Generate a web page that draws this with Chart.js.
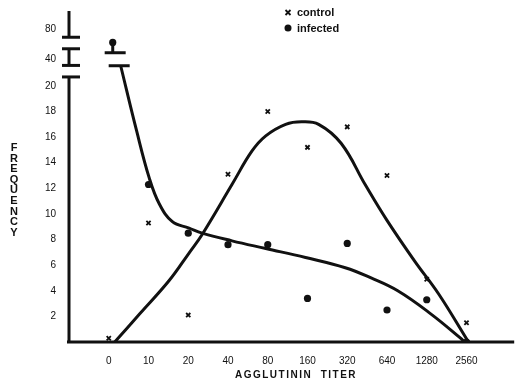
<!DOCTYPE html>
<html>
<head>
<meta charset="utf-8">
<script src="https://cdn.jsdelivr.net/npm/chart.js@4.4.1/dist/chart.umd.min.js"></script>
<style>
  html, body { margin: 0; padding: 0; background: #fff; }
  #wrap { width: 520px; height: 380px; }
</style>
</head>
<body>
<div id="wrap"><canvas id="chart"></canvas></div>
<script>
// ---- data ----
const titers = ["0", "10", "20", "40", "80", "160", "320", "640", "1280", "2560"];
const yTickValues = [2, 4, 6, 8, 10, 12, 14, 16, 18, 20, 40, 80];

const controlFreq  = [0.3, 9.3, 2.1, 13.1, 18.0, 15.2, 16.8, 13.0, 4.9, 1.5];
const infectedFreq = [62, 12.3, 8.5, 7.6, 7.6, 3.4, 7.7, 2.5, 3.3, 0];

// fitted curves (titer index, frequency)
const controlCurveX = [0.15, 0.78, 1.52, 2.02, 2.35, 3.1, 3.6, 3.95, 4.45, 4.85, 5.28, 5.85, 6.45, 7.0, 7.7, 8.3, 9.05];
const controlCurveY = [0, 2.2, 4.8, 6.95, 8.4, 12.3, 14.9, 16.1, 17.0, 17.2, 17.0, 15.5, 12.3, 9.5, 6.3, 3.75, 0];
const infectedCurveX = [0.3, 0.7, 1.02, 1.27, 1.6, 2.02, 2.35, 3.1, 3.95, 4.95, 5.95, 6.6, 7.27, 8.1, 8.85, 8.95];
const infectedCurveY = [35, 16.5, 12.8, 10.8, 9.4, 8.9, 8.5, 7.9, 7.3, 6.6, 5.8, 5.0, 4.0, 2.2, 0.3, 0];

/* ===========================
   BROKEN Y AXIS MAPPING
=========================== */
// value -> axis unit (linear up to 20, then compressed above the break)
const breakMap = [[0, 0], [20, 20], [40, 22.1], [80, 24.45]];
function yPos(v) {
  for (let i = 1; i < breakMap.length; i++) {
    const [v0, p0] = breakMap[i - 1];
    const [v1, p1] = breakMap[i];
    if (v <= v1) return p0 + (v - v0) / (v1 - v0) * (p1 - p0);
  }
  return breakMap[breakMap.length - 1][1];
}
const tickLabelAt = {};
yTickValues.forEach(v => { tickLabelAt[yPos(v).toFixed(3)] = String(v); });

const pts = (xs, ys) => xs.map((x, i) => ({ x, y: yPos(ys[i]) }));

/* ===========================
   DECORATION PLUGIN
=========================== */
const INK = "#111";
const decor = {
  id: "decor",
  beforeDatasetsDraw(chart) {
    const { ctx, chartArea: a, scales: { y } } = chart;
    ctx.save();
    ctx.strokeStyle = INK;
    ctx.lineWidth = 3;
    ctx.lineCap = "butt";
    const L = a.left, B = a.bottom;
    const bars = [20.7, 21.6, 22.9, 23.8].map(u => y.getPixelForValue(u));
    // y axis with break
    const segs = [[B + 1, bars[0]], [bars[1], bars[2]], [bars[3], a.top]];
    segs.forEach(([p, q]) => { ctx.beginPath(); ctx.moveTo(L, p); ctx.lineTo(L, q); ctx.stroke(); });
    bars.forEach(p => { ctx.beginPath(); ctx.moveTo(L - 7, p); ctx.lineTo(L + 11, p); ctx.stroke(); });
    // x axis
    ctx.beginPath(); ctx.moveTo(L - 2, B); ctx.lineTo(a.right, B); ctx.stroke();
    ctx.restore();
  },
  afterDatasetsDraw(chart) {
    const { ctx } = chart;
    ctx.save();
    ctx.strokeStyle = INK;
    ctx.fillStyle = INK;
    ctx.lineWidth = 3;
    // break marks on the infected curve
    const c0 = chart.getDatasetMeta(3).data[0];
    const d0 = chart.getDatasetMeta(1).data[0];
    ctx.beginPath(); ctx.moveTo(c0.x - 12, c0.y); ctx.lineTo(c0.x + 9, c0.y); ctx.stroke();
    const up = c0.y - 13;
    ctx.beginPath(); ctx.moveTo(c0.x - 16, up); ctx.lineTo(c0.x + 5, up); ctx.stroke();
    ctx.beginPath(); ctx.moveTo(d0.x, d0.y); ctx.lineTo(d0.x, up); ctx.stroke();

    // legend
    ctx.lineWidth = 1.8;
    const lx = 288;
    ctx.beginPath();
    ctx.moveTo(lx - 2.5, 10); ctx.lineTo(lx + 2.5, 15);
    ctx.moveTo(lx + 2.5, 10); ctx.lineTo(lx - 2.5, 15);
    ctx.stroke();
    ctx.beginPath(); ctx.arc(lx, 28, 3.5, 0, Math.PI * 2); ctx.fill();
    ctx.font = "bold 11px 'Liberation Sans', Arial, sans-serif";
    ctx.textBaseline = "middle";
    ctx.textAlign = "left";
    ctx.fillText("control", lx + 9, 13);
    ctx.fillText("infected", lx + 9, 29);

    // axis titles
    ctx.font = "bold 10px 'Liberation Sans', Arial, sans-serif";
    ctx.textAlign = "center";
    if ("letterSpacing" in ctx) ctx.letterSpacing = "1.5px";
    ctx.fillText("AGGLUTININ  TITER", 296, 375);
    if ("letterSpacing" in ctx) ctx.letterSpacing = "0px";
    ctx.font = "bold 11px 'Liberation Sans', Arial, sans-serif";
    "FREQUENCY".split("").forEach((ch, i) => ctx.fillText(ch, 14, 148 + i * 10.6));
    ctx.restore();
  }
};

/* ===========================
   CHART
=========================== */
const ctx = document.getElementById("chart").getContext("2d");
new Chart(ctx, {
  type: "scatter",
  data: {
    datasets: [
      {
        label: "control",
        data: controlFreq.map((v, i) => ({ x: i, y: yPos(v) })),
        pointStyle: "crossRot",
        pointRadius: 3,
        borderColor: INK,
        borderWidth: 1.8,
        showLine: false
      },
      {
        label: "infected",
        data: infectedFreq.map((v, i) => ({ x: i === 0 ? 0.1 : i, y: yPos(v) })),
        pointStyle: "circle",
        pointRadius: 3.6,
        backgroundColor: INK,
        borderColor: INK,
        borderWidth: 0,
        showLine: false
      },
      {
        label: "control fit",
        data: pts(controlCurveX, controlCurveY),
        showLine: true,
        pointRadius: 0,
        borderColor: INK,
        borderWidth: 3,
        tension: 0.4
      },
      {
        label: "infected fit",
        data: pts(infectedCurveX, infectedCurveY),
        showLine: true,
        pointRadius: 0,
        borderColor: INK,
        borderWidth: 3,
        tension: 0.4
      }
    ]
  },
  options: {
    responsive: true,
    maintainAspectRatio: false,
    animation: false,
    layout: { padding: { top: 10, right: 3, left: 0, bottom: 0 } },
    plugins: {
      legend: { display: false },
      tooltip: { enabled: false }
    },
    scales: {
      x: {
        type: "linear",
        min: -1,
        max: 10.2,
        grid: { display: false },
        border: { display: false },
        afterBuildTicks(scale) {
          scale.ticks = titers.map((_, i) => ({ value: i }));
        },
        afterFit(scale) { scale.height = 38; },
        ticks: {
          padding: 5,
          maxRotation: 0,
          autoSkip: false,
          color: INK,
          font: { size: 10, family: "'Liberation Sans', Arial, sans-serif" },
          callback: v => titers[Math.round(v)]
        }
      },
      y: {
        type: "linear",
        min: 0,
        max: 25.85,
        grid: { display: false },
        border: { display: false },
        afterBuildTicks(scale) {
          scale.ticks = yTickValues.map(v => ({ value: yPos(v) }));
        },
        afterFit(scale) { scale.width = 69; },
        ticks: {
          padding: 5,
          autoSkip: false,
          color: INK,
          font: { size: 10, family: "'Liberation Sans', Arial, sans-serif" },
          callback: v => tickLabelAt[Number(v).toFixed(3)] || ""
        }
      }
    }
  },
  plugins: [decor]
});
</script>
</body>
</html>
